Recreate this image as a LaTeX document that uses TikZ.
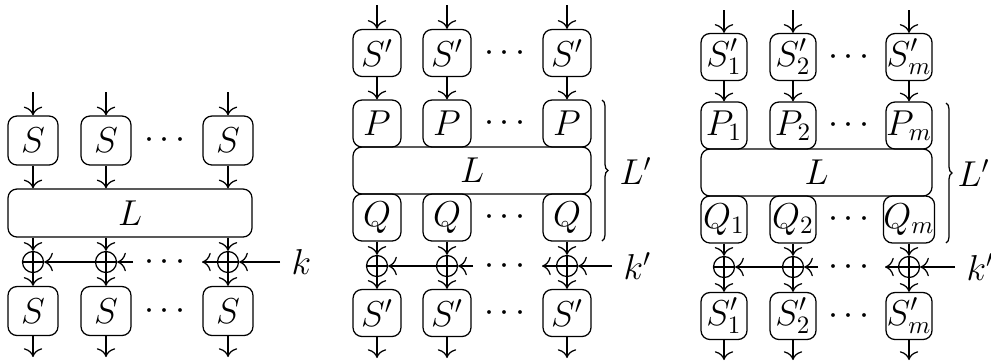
\documentclass[tikz,border=0pt]{standalone}
\usetikzlibrary{decorations.pathreplacing,arrows.meta}
\begin{document}
\begin{tikzpicture}[x=0.4pt,y=-0.4pt, >={To[scale=1.3]}, line width=0.5pt,
  every node/.append style={font=\Large},
  box/.style={draw, rounded corners=3.6pt, inner sep=0pt},
  bxa/.style={box, minimum width=20pt, minimum height=19.6pt},
  bxb/.style={box, minimum width=19.2pt, minimum height=18.8pt},
  bxc/.style={box, minimum width=18.4pt, minimum height=18.8pt},
  xorn/.style={draw, circle, minimum size=8.4pt, inner sep=0pt,
    path picture={\draw (path picture bounding box.north) -- (path picture bounding box.south)
      (path picture bounding box.west) -- (path picture bounding box.east);}},
  dts/.style={inner sep=0pt},
  lbl/.style={anchor=west, inner sep=4.4pt},
  brc/.style={decorate, decoration={brace, amplitude=2.4pt}}
]
\useasboundingbox (0,0) rectangle (991,363);

% ---------------- Panel 1 ----------------
\node[bxa] (a1) at (33,140.5) {$S$};
\node[bxa] (a2) at (106,140.5) {$S$};
\node[bxa] (a3) at (228,140.5) {$S$};
\node[dts] (ad1) at (165,140.5) {$\cdots$};
\node[box, minimum width=97.6pt, minimum height=19.2pt] (aL) at (130,213) {$L$};
\node[xorn] (ax1) at (33,262) {};
\node[xorn] (ax2) at (106,262) {};
\node[xorn] (ax3) at (228,262) {};
\node[dts] (ad2) at (165,262) {$\cdots$};
\node[bxa] (ab1) at (33,311) {$S$};
\node[bxa] (ab2) at (106,311) {$S$};
\node[bxa] (ab3) at (228,311) {$S$};
\node[dts] (ad3) at (165,311) {$\cdots$};
\node[lbl] (ak) at (280,262) {$k$};
\coordinate (at1) at (33,92);
\coordinate (at2) at (106,92);
\coordinate (at3) at (228,92);
\coordinate (ae1) at (33,357);
\coordinate (ae2) at (106,357);
\coordinate (ae3) at (228,357);
\coordinate (ac1) at (133,262);
\coordinate (ac2) at (202,262);
\foreach \i in {1,2,3}{
  \draw[->] (at\i) -- (a\i);
  \draw[->] (a\i) -- (a\i |- aL.north);
  \draw[->] (ax\i |- aL.south) -- (ax\i);
  \draw[->] (ax\i) -- (ab\i);
  \draw[->] (ab\i) -- (ae\i);
}
\draw[->] (ax2) -- (ax1);
\draw[->] (ac1) -- (ax2);
\draw[->] (ax3) -- (ac2);
\draw[->] (ak) -- (ax3);

% ---------------- Panel 2 ----------------
\node[bxb] (b1) at (377,53) {$S'$};
\node[bxb] (b2) at (447,53) {$S'$};
\node[bxb] (b3) at (567,53) {$S'$};
\node[dts] (bd1) at (505,53) {$\cdots$};
\node[bxb] (bp1) at (377,123.5) {$P$};
\node[bxb] (bp2) at (447,123.5) {$P$};
\node[bxb] (bp3) at (567,123.5) {$P$};
\node[dts] (bd2) at (505,123.5) {$\cdots$};
\node[box, minimum width=95.2pt, minimum height=18.8pt] (bL) at (472,170.5) {$L$};
\node[bxb] (bq1) at (377,217.5) {$Q$};
\node[bxb] (bq2) at (447,217.5) {$Q$};
\node[bxb] (bq3) at (567,217.5) {$Q$};
\node[dts] (bd3) at (505,217.5) {$\cdots$};
\node[xorn] (bx1) at (377,266) {};
\node[xorn] (bx2) at (447,266) {};
\node[xorn] (bx3) at (567,266) {};
\node[dts] (bd4) at (505,266) {$\cdots$};
\node[bxb] (bb1) at (377,313) {$S'$};
\node[bxb] (bb2) at (447,313) {$S'$};
\node[bxb] (bb3) at (567,313) {$S'$};
\node[dts] (bd5) at (505,313) {$\cdots$};
\node[lbl] (bk) at (612,266) {$k'$};
\coordinate (bt1) at (377,5);
\coordinate (bt2) at (447,5);
\coordinate (bt3) at (567,5);
\coordinate (be1) at (377,358);
\coordinate (be2) at (447,358);
\coordinate (be3) at (567,358);
\coordinate (bc1) at (473,266);
\coordinate (bc2) at (542,266);
\foreach \i in {1,2,3}{
  \draw[->] (bt\i) -- (b\i);
  \draw[->] (b\i) -- (bp\i);
  \draw[->] (bq\i) -- (bx\i);
  \draw[->] (bx\i) -- (bb\i);
  \draw[->] (bb\i) -- (be\i);
}
\draw[->] (bx2) -- (bx1);
\draw[->] (bc1) -- (bx2);
\draw[->] (bx3) -- (bc2);
\draw[->] (bk) -- (bx3);
\coordinate (bbr1) at (602,100);
\coordinate (bbr2) at (602,241);
\draw[brc] (bbr1) -- (bbr2);
\node[anchor=west, inner sep=0pt] (bl) at (619,171) {$L'$};

% ---------------- Panel 3 ----------------
\node[bxc] (c1) at (724,57) {$S'_1$};
\node[bxc] (c2) at (793,57) {$S'_2$};
\node[bxc] (c3) at (909,57) {$S'_m$};
\node[dts] (cd1) at (849,57) {$\cdots$};
\node[bxc] (cp1) at (724,125.5) {$P_1$};
\node[bxc] (cp2) at (793,125.5) {$P_2$};
\node[bxc] (cp3) at (909,125.5) {$P_m$};
\node[dts] (cd2) at (849,125.5) {$\cdots$};
\node[box, minimum width=92.4pt, minimum height=18.8pt] (cL) at (816.5,172.5) {$L$};
\node[bxc] (cq1) at (724,219.5) {$Q_1$};
\node[bxc] (cq2) at (793,219.5) {$Q_2$};
\node[bxc] (cq3) at (909,219.5) {$Q_m$};
\node[dts] (cd3) at (849,219.5) {$\cdots$};
\node[xorn] (cx1) at (724,267) {};
\node[xorn] (cx2) at (793,267) {};
\node[xorn] (cx3) at (909,267) {};
\node[dts] (cd4) at (849,267) {$\cdots$};
\node[bxc] (cb1) at (724,316) {$S'_1$};
\node[bxc] (cb2) at (793,316) {$S'_2$};
\node[bxc] (cb3) at (909,316) {$S'_m$};
\node[dts] (cd5) at (849,316) {$\cdots$};
\node[lbl] (ck) at (955,267) {$k'$};
\coordinate (ct1) at (724,10);
\coordinate (ct2) at (793,10);
\coordinate (ct3) at (909,10);
\coordinate (ce1) at (724,360);
\coordinate (ce2) at (793,360);
\coordinate (ce3) at (909,360);
\coordinate (cc1) at (818,267);
\coordinate (cc2) at (885,267);
\foreach \i in {1,2,3}{
  \draw[->] (ct\i) -- (c\i);
  \draw[->] (c\i) -- (cp\i);
  \draw[->] (cq\i) -- (cx\i);
  \draw[->] (cx\i) -- (cb\i);
  \draw[->] (cb\i) -- (ce\i);
}
\draw[->] (cx2) -- (cx1);
\draw[->] (cc1) -- (cx2);
\draw[->] (cx3) -- (cc2);
\draw[->] (ck) -- (cx3);
\coordinate (cbr1) at (946,103);
\coordinate (cbr2) at (946,243);
\draw[brc] (cbr1) -- (cbr2);
\node[anchor=west, inner sep=0pt] (cl) at (957,173) {$L'$};
\end{tikzpicture}
\end{document}
